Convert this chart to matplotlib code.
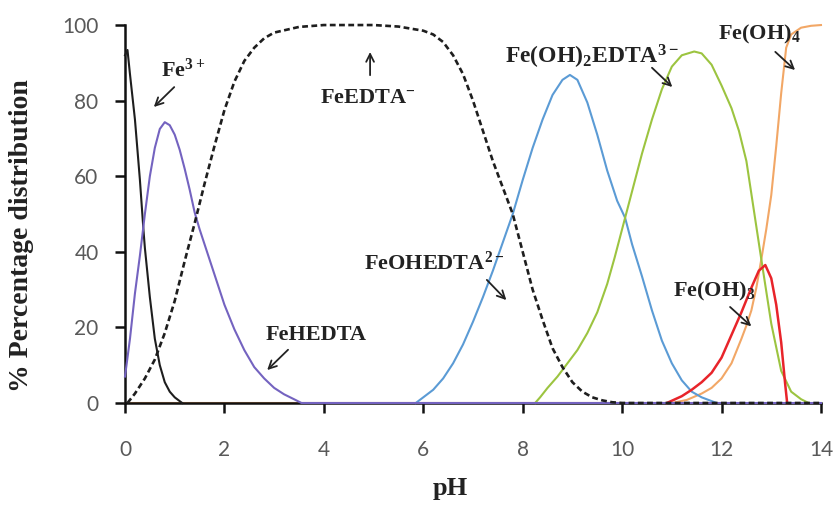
import matplotlib
matplotlib.use("Agg")
import matplotlib.pyplot as plt

# speciation data, pH vs % of total Fe
ph_fe3 = [0.0, 0.05, 0.1, 0.15, 0.2, 0.3, 0.37, 0.4, 0.5, 0.6, 0.7, 0.8, 0.9, 1.0, 1.1, 1.15]
fe3 = [92, 93.4, 87, 81, 75, 59, 46, 41, 28, 17, 10, 5.5, 3, 1.5, 0.5, 0]

ph_fehedta = [0.0, 0.1, 0.2, 0.3, 0.4, 0.5, 0.6, 0.7, 0.8, 0.9, 1.0, 1.1, 1.2, 1.3, 1.4, 1.5,
              1.6, 1.8, 2.0, 2.2, 2.4, 2.6, 2.8, 3.0, 3.2, 3.4, 3.55, 14.0]
fehedta = [7, 17, 29, 39, 50, 60, 67.5, 72.5, 74.3, 73.5, 71, 67, 62, 56.5, 50.5, 46,
           42, 34, 26, 19.5, 14, 9.5, 6.5, 4, 2.3, 1, 0, 0]

ph_feedta = [0.05, 0.2, 0.4, 0.6, 0.8, 1.0, 1.2, 1.4, 1.6, 1.8, 2.0, 2.2, 2.4, 2.6, 2.8, 3.0,
             3.5, 4.0, 5.0, 5.5, 6.0, 6.2, 6.4, 6.6, 6.8, 7.0, 7.2, 7.4, 7.6, 7.8, 8.0, 8.2,
             8.4, 8.6, 8.8, 9.0, 9.2, 9.4, 9.6, 9.8, 10.0, 14.0]
feedta = [0, 2.5, 6.5, 11.5, 18.5, 27, 37.5, 47.5, 58, 68, 77.5, 85, 90.5, 94, 96.5, 98,
          99.5, 100, 100, 99.6, 98.5, 97.5, 95.5, 92, 87, 80, 72, 64, 57, 50, 40, 30,
          22, 14.5, 9.5, 5.5, 3, 1.5, 0.7, 0.2, 0, 0]

ph_feohedta = [5.85, 6.0, 6.2, 6.4, 6.6, 6.8, 7.0, 7.2, 7.4, 7.6, 7.8, 8.0, 8.2, 8.4, 8.6, 8.8,
               8.95, 9.1, 9.3, 9.5, 9.7, 9.9, 10.06, 10.2, 10.4, 10.6, 10.8, 11.0, 11.2, 11.4,
               11.6, 11.8, 11.9]
feohedta = [0, 1.5, 3.5, 6.5, 10.5, 15.5, 21.5, 28, 35, 42.5, 50, 59, 67.5, 75, 81.5, 85.5,
            86.8, 85.5, 79.5, 71, 61.5, 53.5, 49, 42, 33.5, 24.5, 16.5, 10.5, 6, 3,
            1.5, 0.5, 0]

ph_feoh2edta = [8.25, 8.35, 8.5, 8.7, 8.9, 9.1, 9.3, 9.5, 9.7, 9.85, 10.0, 10.2, 10.4, 10.6,
                10.8, 11.0, 11.2, 11.45, 11.6, 11.8, 12.0, 12.2, 12.35, 12.5, 12.65, 12.8,
                13.0, 13.2, 13.4, 13.6, 13.75]
feoh2edta = [0, 1.5, 4, 7, 10.5, 14, 18.5, 24, 31.5, 38.5, 46, 56, 66, 75,
             83, 89, 92, 93, 92.5, 89.5, 84, 78, 72, 64, 51, 38,
             21, 8.5, 3, 1, 0]

ph_feoh3 = [10.9, 11.2, 11.4, 11.6, 11.8, 12.0, 12.2, 12.4, 12.6, 12.75, 12.88, 13.0, 13.1,
            13.2, 13.28, 13.32]
feoh3 = [0, 1.8, 3.5, 5.5, 8, 12, 18, 24, 30.5, 35, 36.5, 33, 26, 16, 5, 0]

ph_feoh4 = [0.0, 11.0, 11.3, 11.6, 11.8, 12.0, 12.2, 12.4, 12.5, 12.6, 12.7, 12.8, 12.9, 13.0,
            13.1, 13.2, 13.3, 13.4, 13.6, 13.8, 14.0]
feoh4 = [0, 0, 0.8, 2.5, 4, 6.5, 10.5, 17, 20.5, 24.5, 30.5, 38, 46, 55,
         68, 82, 94, 97.5, 99.3, 99.8, 100]

serif = "Liberation Serif"
plt.rcParams["mathtext.fontset"] = "custom"
plt.rcParams["mathtext.rm"] = "Liberation Serif:bold"
plt.rcParams["mathtext.it"] = "Liberation Serif:bold"
plt.rcParams["mathtext.bf"] = "Liberation Serif:bold"

fig = plt.figure(figsize=(8.35, 5.08), dpi=100)
ax = fig.add_axes([0.1497, 0.2067, 0.8335, 0.744])

lw = 1.5
ax.plot(ph_feoh4, feoh4, color="#f2a766", lw=lw, zorder=2, clip_on=False)
ax.plot(ph_fe3, fe3, color="#1e1e1e", lw=lw, zorder=3, clip_on=False)
ax.plot(ph_feohedta, feohedta, color="#5b9bd5", lw=lw, zorder=3, clip_on=False)
ax.plot(ph_feoh2edta, feoh2edta, color="#9cc440", lw=lw, zorder=3, clip_on=False)
ax.plot(ph_feoh3, feoh3, color="#e8242a", lw=lw + 0.3, zorder=4, clip_on=False)
ax.plot(ph_fehedta, fehedta, color="#7463c0", lw=lw, zorder=5, clip_on=False)
ax.plot(ph_feedta, feedta, color="#1e1e1e", lw=1.9, ls=(0, (2.2, 1.3)), zorder=6, clip_on=False)

# species labels with pointer arrows
labels = [
    ("Fe$^{3+}$", (1.17, 88.0), (1.03, 84.1), (0.54, 77.8), 16),
    ("FeEDTA$^{-}$", (4.89, 80.7), (4.93, 86.0), (4.93, 93.6), 16),
    ("Fe(OH)$_{2}$EDTA$^{3-}$", (9.4, 91.5), (10.56, 89.2), (11.05, 83.1), 17),
    ("Fe(OH)$_{4}$", (12.76, 97.4), (13.04, 93.4), (13.52, 87.6), 16),
    ("FeOHEDTA$^{2-}$", (6.22, 37.0), (7.24, 33.1), (7.71, 26.7), 16),
    ("FeHEDTA", (3.84, 18.0), (3.32, 14.6), (2.82, 8.2), 16),
    ("Fe(OH)$_{3}$", (11.85, 29.4), (12.13, 25.9), (12.64, 19.8), 16),
]
for text, pos, tail, head, size in labels:
    ax.text(pos[0], pos[1], text, ha="center", va="center", fontsize=size,
            fontweight="bold", family=serif, color="#222222", zorder=8)
    ax.annotate("", xy=head, xytext=tail,
                arrowprops=dict(arrowstyle="->", color="#222222", lw=1.3,
                                mutation_scale=14), zorder=8)

ax.set_xlim(0, 14)
ax.set_ylim(0, 100)
ax.set_xticks(range(0, 15, 2))
ax.set_yticks(range(0, 101, 20))
for side in ["top", "right"]:
    ax.spines[side].set_visible(False)
for side in ["left", "bottom"]:
    ax.spines[side].set_linewidth(1.8)
    ax.spines[side].set_color("#111111")
ax.tick_params(axis="both", direction="out", length=7, width=1.8, color="#111111",
               labelsize=15, labelcolor="#595959")
ax.tick_params(axis="x", pad=20)
ax.tick_params(axis="y", pad=12)
for lab in ax.get_xticklabels() + ax.get_yticklabels():
    lab.set_family("Lato")

ax.set_xlabel("pH", fontsize=19, fontweight="bold", family=serif, color="#222222",
              va="center")
ax.set_ylabel("% Percentage distribution", fontsize=20, fontweight="bold", family=serif,
              color="#222222", va="center")
ax.xaxis.set_label_coords(0.467, -0.226)
ax.yaxis.set_label_coords(-0.148, 0.444)

fig.savefig("out.png", dpi=100)
